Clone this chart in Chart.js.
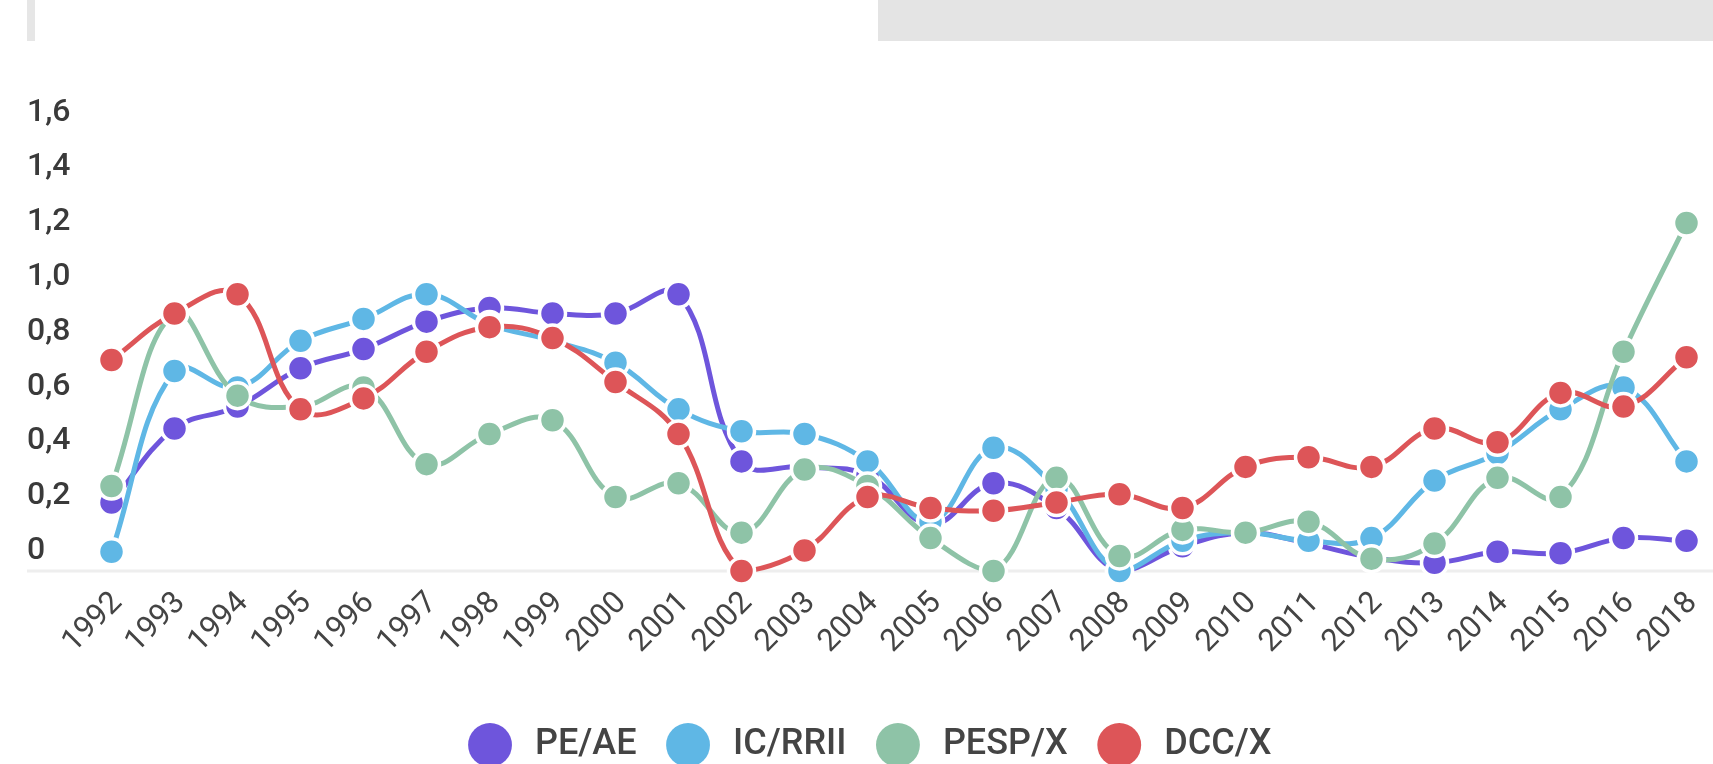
<!DOCTYPE html>
<html>
<head>
<meta charset="utf-8">
<title>Indicadores 1992-2018</title>
<script src="https://cdn.jsdelivr.net/npm/chart.js@4.4.1/dist/chart.umd.min.js"></script>
<style>
  html, body { margin: 0; padding: 0; background: #fff; overflow: hidden; }
  #wrap { position: absolute; left: 0; top: 0; width: 1713px; height: 773px; }
  .tab-left { position: absolute; left: 27px; top: 0; width: 8px; height: 41px; background: #e6e6e6; }
  .tab-right { position: absolute; left: 878px; top: 0; width: 835px; height: 41px; background: #e4e4e4; }
</style>
</head>
<body>
<div id="wrap"><canvas id="chart"></canvas></div>
<div class="tab-left"></div>
<div class="tab-right"></div>
<script>
// years on the x axis (no 2017 in the source)
const years = ['1992', '1993', '1994', '1995', '1996', '1997', '1998', '1999', '2000', '2001',
  '2002', '2003', '2004', '2005', '2006', '2007', '2008', '2009', '2010', '2011',
  '2012', '2013', '2014', '2015', '2016', '2018'];

const peAe = [0.25, 0.52, 0.6, 0.74, 0.81, 0.91, 0.96, 0.94, 0.94, 1.01,
  0.4, 0.38, 0.35, 0.17, 0.32, 0.23, 0.0, 0.09, 0.14, 0.1,
  0.05, 0.03, 0.07, 0.065, 0.12, 0.11];

const icRrii = [0.07, 0.73, 0.67, 0.84, 0.92, 1.01, 0.9, 0.84, 0.76, 0.59,
  0.51, 0.5, 0.4, 0.18, 0.45, 0.3, 0.0, 0.11, 0.14, 0.11,
  0.12, 0.33, 0.43, 0.59, 0.67, 0.4];

const pespX = [0.31, 0.94, 0.64, 0.6, 0.67, 0.39, 0.5, 0.55, 0.27, 0.32,
  0.14, 0.37, 0.31, 0.12, 0.0, 0.34, 0.055, 0.15, 0.14, 0.18,
  0.045, 0.1, 0.34, 0.27, 0.8, 1.27];

const dccX = [0.77, 0.94, 1.01, 0.59, 0.63, 0.8, 0.89, 0.85, 0.69, 0.5,
  0.0, 0.075, 0.27, 0.23, 0.22, 0.25, 0.28, 0.23, 0.38, 0.415,
  0.38, 0.52, 0.47, 0.65, 0.6, 0.78];

const yTickLabels = ['0', '0,2', '0,4', '0,6', '0,8', '1,0', '1,2', '1,4', '1,6'];

const seriesNames = ['PE/AE', 'IC/RRII', 'PESP/X', 'DCC/X'];
const seriesColors = ['#6e55dc', '#5fb7e5', '#8ec3a7', '#dd5558'];
const seriesData = [peAe, icRrii, pespX, dccX];

Chart.defaults.font.family = 'Roboto, "Noto Sans", sans-serif';
Chart.defaults.color = '#3a3a3a';

// light baseline that runs from the y labels to the right edge
const baseLine = {
  id: 'baseLine',
  beforeDatasetsDraw(chart) {
    const ctx = chart.ctx;
    const y0 = chart.scales.y.getPixelForValue(0);
    ctx.save();
    ctx.fillStyle = '#eeeeee';
    ctx.fillRect(27, y0 - 1.5, chart.width - 27, 3);
    ctx.restore();
  }
};

// legend sits a bit right of the true centre in the source
const legendNudge = {
  id: 'legendNudge',
  afterLayout(chart) {
    chart.legend.left += 15;
    chart.legend.right += 15;
  }
};

const datasets = seriesData.map((vals, i) => ({
  label: seriesNames[i],
  data: vals,
  borderColor: seriesColors[i],
  backgroundColor: seriesColors[i],
  borderWidth: 5,
  tension: 0.4,
  pointRadius: 13,
  pointHoverRadius: 13,
  pointBackgroundColor: seriesColors[i],
  pointBorderColor: '#fff',
  pointBorderWidth: 3.5,
  clip: false,
  order: seriesNames.length - i
}));

new Chart(document.getElementById('chart'), {
  type: 'line',
  data: { labels: years, datasets: datasets },
  options: {
    responsive: true,
    maintainAspectRatio: false,
    animation: false,
    layout: { padding: { left: 27, right: 26.5, top: 132.6, bottom: 0 } },
    scales: {
      x: {
        grid: { display: false, drawTicks: false },
        border: { display: false },
        ticks: {
          font: { size: 31 },
          color: '#444',
          minRotation: 45,
          maxRotation: 45,
          padding: 14,
          labelOffset: 6,
          autoSkip: false
        },
        afterFit(scale) {
          scale.height = 122.5;
          scale.paddingLeft = 0;
          scale.paddingRight = 0;
        }
      },
      y: {
        min: 0,
        max: 1.6,
        grid: { display: false, drawTicks: false },
        border: { display: false },
        ticks: {
          stepSize: 0.2,
          font: { size: 32, weight: '500' },
          crossAlign: 'far',
          labelOffset: -20,
          callback: (v, idx) => yTickLabels[idx]
        },
        afterFit(scale) {
          scale.width = 84.5;
          scale.paddingTop = 0;
          scale.paddingBottom = 0;
        }
      }
    },
    plugins: {
      legend: {
        position: 'bottom',
        labels: {
          usePointStyle: true,
          pointStyle: 'circle',
          boxWidth: 36,
          boxHeight: 31,
          padding: 33.5,
          color: '#444',
          font: { size: 36, weight: '500' },
          sort: (a, b) => a.datasetIndex - b.datasetIndex,
          generateLabels(chart) {
            const items = Chart.defaults.plugins.legend.labels.generateLabels(chart);
            items.forEach(it => {
              it.text = ' ' + it.text;
              it.lineWidth = 0;
              it.strokeStyle = it.fillStyle;
            });
            return items;
          }
        }
      },
      tooltip: { enabled: false }
    }
  },
  plugins: [baseLine, legendNudge]
});
</script>
</body>
</html>
